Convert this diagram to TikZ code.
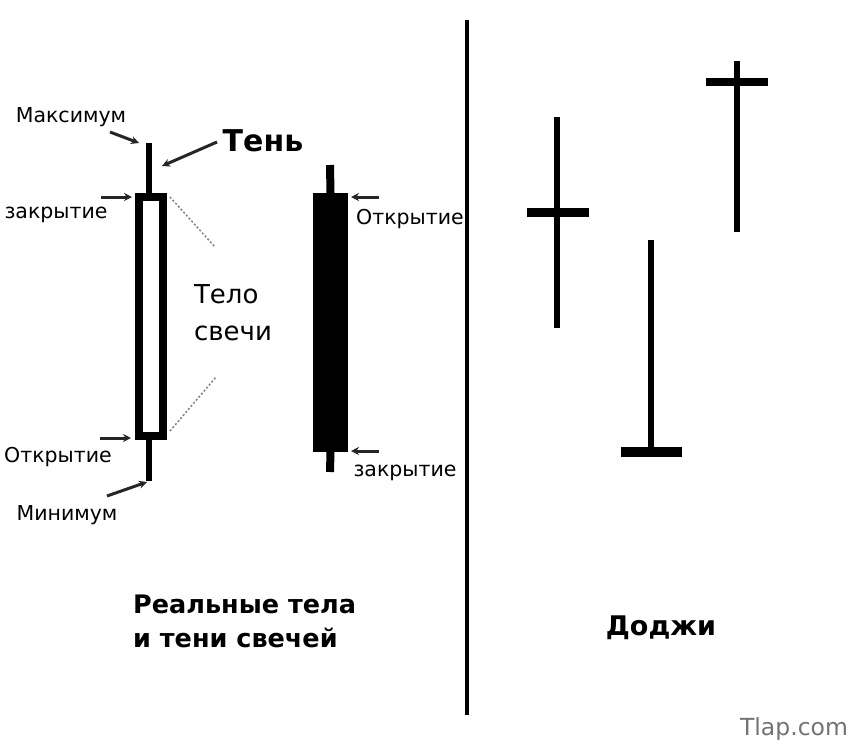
\documentclass[tikz,border=0pt]{standalone}
\usepackage{fontspec}
\setmainfont{DejaVu Sans}
\usetikzlibrary{arrows.meta}
\begin{document}
\begin{tikzpicture}[x=1pt,y=-1pt,
  lbl/.style={font=\fontsize{20.5}{22}\selectfont, inner sep=0pt},
  ptr/.style={draw=black!85, line width=3pt, -{Stealth[length=8pt,width=8pt]}},
  dots/.style={draw=black!50, line width=1.5pt, dash pattern=on 2pt off 2pt},
  wick/.style={draw=black, line width=6pt}]
\useasboundingbox[fill=white] (0,0) rectangle (859,750);
% divider
\coordinate (dtop) at (467,20);
\coordinate (dbot) at (467,715);
\draw[line width=4pt] (dtop) -- (dbot);
% white candle
\node[draw, line width=8pt, fill=white, minimum width=24pt, minimum height=239pt, inner sep=0pt, outer sep=0pt] (wbody) at (151,316.5) {};
\coordinate (wtop) at (149,143);
\coordinate (wbot) at (149,481);
\draw[wick] (wtop) -- (wtop |- wbody.north);
\draw[wick] (wbot) -- (wbot |- wbody.south);
% black candle
\node[fill=black, minimum width=35pt, minimum height=259pt, inner sep=0pt, outer sep=0pt] (bbody) at (330.5,322.5) {};
\coordinate (btop) at (330,165);
\coordinate (bbot) at (330,472);
\draw[line width=8pt] (btop) -- (bbody.north);
\draw[line width=8pt] (bbot) -- (bbody.south);
% labels left candle
\node[lbl] (max) at (71,117) {Максимум};
\node[lbl] (zak1) at (56,215) {закрытие};
\node[lbl] (otk1) at (58,457) {Открытие};
\node[lbl] (min) at (67,515) {Минимум};
\node[font=\fontsize{30}{30}\selectfont\bfseries, inner sep=0pt] (ten) at (263,141) {Тень};
\node[font=\fontsize{26}{37}\selectfont, align=left, inner sep=0pt] (telo) at (233,313) {Тело\\свечи};
\coordinate (maxa) at (110,132);
\coordinate (maxb) at (139,143);
\draw[ptr] (maxa) -- (maxb);
\coordinate (tena) at (217,142);
\coordinate (tenb) at (162,166);
\draw[ptr] (tena) -- (tenb);
\coordinate (zak1a) at (101,197);
\coordinate (zak1b) at (132,197);
\draw[ptr] (zak1a) -- (zak1b);
\coordinate (otk1a) at (100,438);
\coordinate (otk1b) at (131,438);
\draw[ptr] (otk1a) -- (otk1b);
\coordinate (mina) at (107,496);
\coordinate (minb) at (147,482);
\draw[ptr] (mina) -- (minb);
\coordinate (d1a) at (170,197);
\coordinate (d1b) at (215,247);
\draw[dots] (d1a) -- (d1b);
\coordinate (d2a) at (170,431);
\coordinate (d2b) at (216,377);
\draw[dots] (d2a) -- (d2b);
% labels black candle
\node[lbl] (otk2) at (410,219) {Открытие};
\node[lbl] (zak2) at (405,473) {закрытие};
\coordinate (otk2a) at (379,197);
\coordinate (otk2b) at (351,197);
\draw[ptr] (otk2a) -- (otk2b);
\coordinate (zak2a) at (379,451);
\coordinate (zak2b) at (351,451);
\draw[ptr] (zak2a) -- (zak2b);
% dojis
\coordinate (j1t) at (557,117);
\coordinate (j1b) at (557,328);
\coordinate (j1l) at (527,212);
\coordinate (j1r) at (589,212);
\draw[line width=6pt] (j1t) -- (j1b);
\draw[line width=9pt] (j1l) -- (j1r);
\coordinate (j2t) at (651,240);
\coordinate (j2b) at (651,452);
\coordinate (j2l) at (621,452);
\coordinate (j2r) at (682,452);
\draw[line width=6pt] (j2t) -- (j2b);
\draw[line width=10pt] (j2l) -- (j2r);
\coordinate (j3t) at (737,61);
\coordinate (j3b) at (737,232);
\coordinate (j3l) at (706,82);
\coordinate (j3r) at (768,82);
\draw[line width=6pt] (j3t) -- (j3b);
\draw[line width=8pt] (j3l) -- (j3r);
% titles
\node[font=\fontsize{25.5}{34}\selectfont\bfseries, align=left, anchor=west, inner sep=0pt] (real) at (133,621) {Реальные тела\\и тени свечей};
\node[font=\fontsize{27}{30}\selectfont\bfseries, inner sep=0pt] (doji) at (661,628) {Доджи};
\node[font=\fontsize{23.5}{26}\selectfont, text=black!55, inner sep=0pt] (tlap) at (794,729) {Tlap.com};
\end{tikzpicture}
\end{document}
